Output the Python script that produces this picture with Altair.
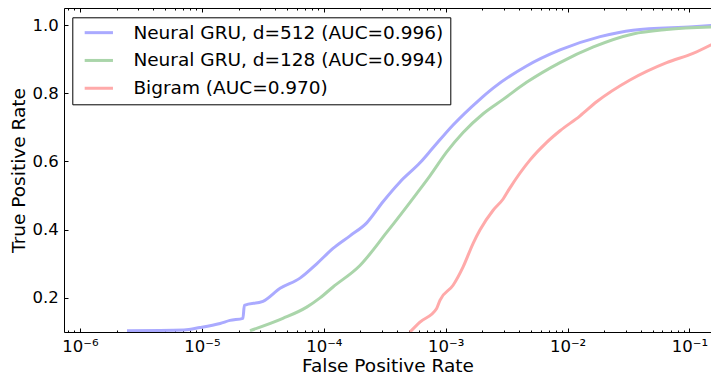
import altair as alt
import pandas as pd

series_names = [
    "Neural GRU, d=512 (AUC=0.996)",
    "Neural GRU, d=128 (AUC=0.994)",
    "Bigram (AUC=0.970)",
]
series_colors = ["#aaaaff", "#aad5aa", "#ffaaaa"]

gru512_fpr = [2.43e-6, 7.13e-6, 9.64e-6, 1.41e-5, 1.70e-5, 2.17e-5, 2.23e-5, 3.17e-5,
              4.38e-5, 6.38e-5, 8.75e-5, 1.19e-4, 1.64e-4, 2.25e-4, 3.06e-4, 4.22e-4,
              6.15e-4, 7.87e-4, 1.15e-3, 1.85e-3, 2.45e-3, 4.61e-3, 8.67e-3, 1.85e-2,
              3.44e-2, 0.107, 0.175]
gru512_tpr = [0.104, 0.106, 0.113, 0.125, 0.134, 0.140, 0.178, 0.190,
              0.228, 0.258, 0.300, 0.345, 0.382, 0.420, 0.482, 0.540,
              0.596, 0.640, 0.707, 0.778, 0.815, 0.880, 0.927, 0.966,
              0.985, 0.995, 1.000]

gru128_fpr = [2.48e-5, 4.62e-5, 7.24e-5, 9.31e-5, 1.19e-4, 1.98e-4, 3.28e-4, 5.78e-4,
              7.43e-4, 1.02e-3, 1.39e-3, 2.03e-3, 2.96e-3, 4.61e-3, 8.67e-3, 1.63e-2,
              3.44e-2, 6.5e-2, 0.175]
gru128_tpr = [0.104, 0.140, 0.173, 0.200, 0.232, 0.295, 0.392, 0.506,
              0.558, 0.628, 0.685, 0.740, 0.782, 0.832, 0.890, 0.936,
              0.974, 0.987, 0.995]

bigram_fpr = [5.09e-4, 6.15e-4, 8.43e-4, 8.97e-4, 1.15e-3, 1.39e-3, 1.68e-3, 1.91e-3,
              2.45e-3, 2.96e-3, 3.36e-3, 4.91e-3, 6.74e-3, 8.67e-3, 1.26e-2, 1.73e-2,
              3.25e-2, 6.5e-2, 0.107, 0.175]
bigram_tpr = [0.100, 0.129, 0.169, 0.193, 0.237, 0.291, 0.360, 0.399,
              0.457, 0.490, 0.522, 0.604, 0.656, 0.690, 0.733, 0.775,
              0.839, 0.890, 0.917, 0.954]

x_major = [1e-6, 1e-5, 1e-4, 1e-3, 1e-2, 1e-1]
x_minor = [8e-7, 9e-7,
           2e-6, 3e-6, 4e-6, 5e-6, 6e-6, 7e-6, 8e-6, 9e-6,
           2e-5, 3e-5, 4e-5, 5e-5, 6e-5, 7e-5, 8e-5, 9e-5,
           2e-4, 3e-4, 4e-4, 5e-4, 6e-4, 7e-4, 8e-4, 9e-4,
           2e-3, 3e-3, 4e-3, 5e-3, 6e-3, 7e-3, 8e-3, 9e-3,
           2e-2, 3e-2, 4e-2, 5e-2, 6e-2, 7e-2, 8e-2, 9e-2]
y_ticks = [0.2, 0.4, 0.6, 0.8, 1.0]
x_domain = [7.39e-7, 0.1502]
y_domain = [0.1, 1.05]

rows = []
for name, fpr, tpr in zip(series_names,
                          [gru512_fpr, gru128_fpr, bigram_fpr],
                          [gru512_tpr, gru128_tpr, bigram_tpr]):
    for i, (a, b) in enumerate(zip(fpr, tpr)):
        rows.append({"series": name, "fpr": a, "tpr": b, "order": i})
df = pd.DataFrame(rows)

W, H = 647, 324
FONT = "DejaVu Sans"
xs = alt.Scale(type="log", domain=x_domain, nice=False)
ys = alt.Scale(domain=y_domain, nice=False, zero=False)

sup_expr = ("'10\u207b' + ['\u2070','\u00b9','\u00b2','\u00b3','\u2074','\u2075','\u2076','\u2077']"
            "[round(-log(datum.value)/LN10)]")

main_x = alt.Axis(orient="bottom", values=x_major, labelExpr=sup_expr, ticks=False, tickSize=0,
                  domain=True, domainColor="black", domainWidth=1, grid=False,
                  labelFont=FONT, labelFontSize=16.5, labelColor="black", labelPadding=6,
                  labelOverlap=False, labelFlush=False,
                  title="False Positive Rate", titleFont=FONT, titleFontSize=18.5,
                  titleFontWeight="normal", titleColor="black", titleY=39.5,
                  titleBaseline="alphabetic")
main_y = alt.Axis(orient="left", values=y_ticks, format=".1f", ticks=False, tickSize=0,
                  domain=True, domainColor="black", domainWidth=1, grid=False,
                  labelFont=FONT, labelFontSize=16.5, labelColor="black", labelPadding=5.7,
                  labelOverlap=False,
                  title="True Positive Rate", titleFont=FONT, titleFontSize=18.5,
                  titleFontWeight="normal", titleColor="black", titleX=-39.8, titleY=H / 2,
                  titleAngle=270, titleBaseline="alphabetic", titleAlign="center")

legend = alt.Legend(title=None, orient="none", legendX=8.3, legendY=9.3,
                    symbolType="M-0.42,0H3.58", symbolSize=200, symbolStrokeWidth=3,
                    symbolOpacity=1, labelFont=FONT, labelFontSize=18.5, labelColor="black",
                    labelLimit=600, labelOffset=36.5, padding=6.1, rowPadding=8.8,
                    strokeColor="black", fillColor="white", cornerRadius=0)

lines = alt.Chart(df).mark_line(strokeWidth=3, clip=True, interpolate="monotone").encode(
    x=alt.X("fpr:Q", scale=xs, axis=main_x),
    y=alt.Y("tpr:Q", scale=ys, axis=main_y),
    color=alt.Color("series:N", scale=alt.Scale(domain=series_names, range=series_colors),
                    legend=legend),
    order="order:Q",
)


def tick_axis(orient, values, size, domain=False, offset=0):
    return alt.Axis(orient=orient, offset=offset, values=values, labels=False, domain=domain,
                    domainColor="black", domainWidth=1, ticks=True, tickSize=size,
                    tickColor="black", tickWidth=1, grid=False, title=None)


def ghost(xaxis, yaxis):
    return alt.Chart(df).mark_line(strokeOpacity=0, clip=True).encode(
        x=alt.X("fpr:Q", scale=xs, axis=xaxis),
        y=alt.Y("tpr:Q", scale=ys, axis=yaxis),
        detail="series:N",
        order="order:Q",
    )


# inward ticks along the bottom and left
g1 = ghost(tick_axis("top", x_major, 4, offset=-H), tick_axis("right", y_ticks, 4, offset=-W))
# inward ticks along the top (with top spine)
g2 = ghost(tick_axis("bottom", x_major, 4, domain=True, offset=-H), None)
g3 = ghost(tick_axis("top", x_minor, 2, offset=-H), None)
g4 = ghost(tick_axis("bottom", x_minor, 2, offset=-H), None)

chart = alt.layer(lines, g1, g2, g3, g4).resolve_axis(x="independent", y="independent").properties(
    width=W, height=H,
    autosize=alt.AutoSizeParams(type="none"),
    padding={"left": 56, "top": 0, "right": 0, "bottom": 44},
).configure_view(stroke="transparent").configure(background="white")

chart.save("out.html", embed_options={"renderer": "svg", "actions": False})
